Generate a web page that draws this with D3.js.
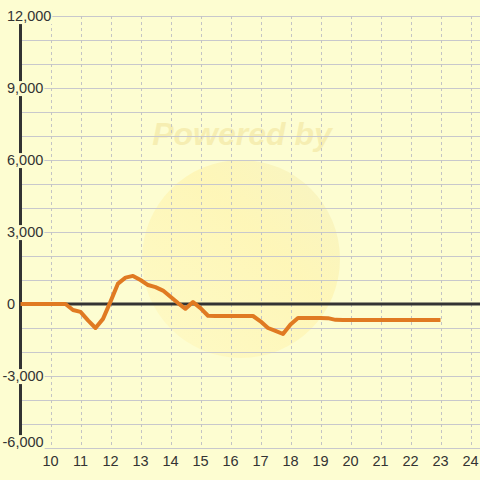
<!DOCTYPE html>
<html>
<head>
<meta charset="utf-8">
<script src="https://cdn.jsdelivr.net/npm/d3@7/dist/d3.min.js"></script>
<style>
  html, body { margin: 0; padding: 0; background: #fdfdd1; }
  svg { display: block; }
  text { font-family: "Liberation Sans", Arial, sans-serif; }
</style>
</head>
<body>
<svg id="chart" width="480" height="480"></svg>
<script>
// ---- data ----
const times = [9, 9.5, 10, 10.25, 10.5, 10.75, 11, 11.25, 11.5, 11.75, 12, 12.25, 12.5, 12.75, 13, 13.25, 13.5, 13.75, 14, 14.25, 14.5, 14.75, 15, 15.25, 15.5, 15.75, 16, 16.25, 16.5, 16.75, 17, 17.25, 17.5, 17.75, 18, 18.25, 18.5, 18.75, 19, 19.25, 19.5, 19.75, 20, 20.5, 21, 21.5, 22, 22.5, 23];
const values = [0, 0, 0, 0, 0, -250, -330, -680, -1000, -620, 100, 850, 1100, 1170, 1000, 790, 700, 560, 300, 40, -200, 80, -170, -490, -500, -500, -500, -500, -500, -500, -720, -1000, -1120, -1250, -850, -580, -580, -580, -580, -590, -660, -670, -670, -670, -670, -670, -670, -670, -670];
const yTicks = [-6000, -3000, 0, 3000, 6000, 9000, 12000];
const yGrid = [-6000, -5000, -4000, -3000, -2000, -1000, 0, 1000, 2000, 3000, 4000, 5000, 6000, 7000, 8000, 9000, 10000, 11000, 12000];
const xTicks = [10, 11, 12, 13, 14, 15, 16, 17, 18, 19, 20, 21, 22, 23, 24];

const W = 480, H = 480;
const svg = d3.select("#chart");
const x = d3.scaleLinear().domain([9, 25]).range([20.5, 500.5]);
const y = d3.scaleLinear().domain([-6000, 12000]).range([448, 16]);

svg.append("rect").attr("width", W).attr("height", H).attr("fill", "#fdfdd1");

// watermark
const defs = svg.append("defs");
const grad = defs.append("linearGradient").attr("id", "wm").attr("x1", "0%").attr("y1", "100%").attr("x2", "100%").attr("y2", "0%");
grad.append("stop").attr("offset", "0%").attr("stop-color", "#fff6b8").attr("stop-opacity", 0.45);
grad.append("stop").attr("offset", "60%").attr("stop-color", "#ffee9a").attr("stop-opacity", 0.45);
grad.append("stop").attr("offset", "100%").attr("stop-color", "#f0ebb8").attr("stop-opacity", 0.5);
svg.append("circle").attr("cx", 241).attr("cy", 259).attr("r", 99).attr("fill", "url(#wm)");
svg.append("text").attr("x", 242).attr("y", 145).attr("text-anchor", "middle")
  .attr("font-size", 32).attr("font-weight", "bold").attr("font-style", "italic")
  .attr("fill", "#f4eaa8").attr("fill-opacity", 0.75).text("Powered by");

// horizontal grid
svg.append("g").selectAll("line").data(yGrid).join("line")
  .attr("x1", x(9)).attr("x2", W)
  .attr("y1", d => Math.round(y(d)) + 0.5).attr("y2", d => Math.round(y(d)) + 0.5)
  .attr("stroke", "#c8c8cc").attr("stroke-width", 1.2);

// vertical dashed grid
svg.append("g").selectAll("line").data(xTicks).join("line")
  .attr("x1", d => Math.round(x(d)) + 0.5).attr("x2", d => Math.round(x(d)) + 0.5)
  .attr("y1", y(12000)).attr("y2", y(-6000))
  .attr("stroke", "#c4c4c4").attr("stroke-width", 1).attr("stroke-dasharray", "3,3");

// y axis line
svg.append("line").attr("x1", x(9)).attr("x2", x(9)).attr("y1", y(12000)).attr("y2", y(-6000))
  .attr("stroke", "#333").attr("stroke-width", 3);

// zero line
svg.append("line").attr("x1", x(9)).attr("x2", W).attr("y1", y(0)).attr("y2", y(0))
  .attr("stroke", "#333").attr("stroke-width", 3);

// data line
const line = d3.line().x((d, i) => x(times[i])).y(d => y(d));
svg.append("path").datum(values).attr("d", line)
  .attr("fill", "none").attr("stroke", "#e07a22").attr("stroke-width", 4)
  .attr("stroke-linejoin", "round");

// y labels with background
const fmt = d3.format(",");
const yl = svg.append("g");
yTicks.forEach(v => {
  const g = yl.append("g");
  const ty = v === -6000 ? y(v) - 6 : y(v);
  const t = g.append("text").attr("x", v < 0 ? 2.5 : 7).attr("y", ty)
    .attr("dy", "0.35em").attr("font-size", 14.5).attr("fill", "#333")
    .text(v < 0 ? "-" + fmt(-v) : fmt(v));
  const b = t.node().getBBox();
  g.insert("rect", "text").attr("x", b.x - 1).attr("y", b.y + 1).attr("width", b.width + 2).attr("height", b.height - 1)
    .attr("fill", "#fdfdd1");
});

// x labels
svg.append("g").selectAll("text").data(xTicks).join("text")
  .attr("x", d => x(d)).attr("y", 461).attr("dy", "0.35em")
  .attr("text-anchor", "middle").attr("font-size", 14.5).attr("fill", "#333")
  .text(d => d);
</script>
</body>
</html>
